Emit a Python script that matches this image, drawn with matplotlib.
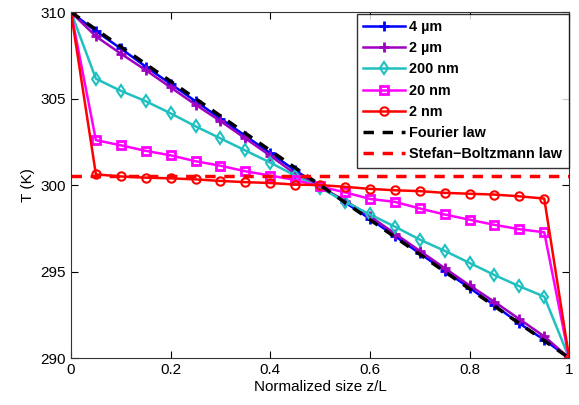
import numpy as np
import matplotlib
matplotlib.use('Agg')
import matplotlib.pyplot as plt

plt.rcParams['font.family'] = ['Liberation Sans', 'DejaVu Sans']

# normalized position z/L
z = [0.0, 0.05, 0.1, 0.15, 0.2, 0.25, 0.3, 0.35, 0.4, 0.45, 0.5,
     0.55, 0.6, 0.65, 0.7, 0.75, 0.8, 0.85, 0.9, 0.95, 1.0]

# temperatures (K)
t_4um = [310, 308.9, 307.9, 306.85, 305.85, 304.85, 303.85, 302.85, 301.85, 300.85, 299.95,
         299.0, 298.05, 297.05, 296.05, 295.05, 294.05, 293.05, 292.0, 291.05, 290]
t_2um = [310, 308.6, 307.6, 306.65, 305.65, 304.65, 303.7, 302.7, 301.7, 300.65, 299.9,
         299.1, 298.2, 297.2, 296.2, 295.2, 294.2, 293.25, 292.25, 291.25, 290]
t_200nm = [310, 306.15, 305.45, 304.85, 304.15, 303.4, 302.7, 302.0, 301.3, 300.55, 299.85,
           299.05, 298.3, 297.6, 296.85, 296.2, 295.5, 294.8, 294.15, 293.55, 290]
t_20nm = [310, 302.6, 302.3, 301.98, 301.72, 301.38, 301.12, 300.8, 300.55, 300.3, 299.92,
          299.58, 299.2, 299.03, 298.65, 298.3, 298.0, 297.7, 297.45, 297.27, 290]
t_2nm = [310, 300.62, 300.5, 300.43, 300.39, 300.33, 300.24, 300.17, 300.12, 300.03, 300.0,
         299.9, 299.78, 299.7, 299.65, 299.55, 299.5, 299.45, 299.35, 299.22, 290]
fourier_z = [0, 1]
fourier_t = [310, 290]
sb_z = [0, 1]
sb_t = [300.55, 300.55]

fig = plt.figure(figsize=(5.79, 4.05), dpi=100)
ax = fig.add_axes([0.1226, 0.116, 0.8604, 0.854])

ax.plot(z, t_4um, color='#0000ff', marker='+', ms=7, mew=2, lw=1.8, label='4 µm')
ax.plot(z, t_2um, color='#a000c0', marker='+', ms=7, mew=2, lw=1.8, label='2 µm')
ax.plot(z, t_200nm, color='#20c0c0', marker='d', ms=6, mew=1.5, mfc='none', lw=1.8, label='200 nm')
ax.plot(z, t_20nm, color='#ff00ff', marker='s', ms=6, mew=2, mfc='none', lw=1.8, label='20 nm')
ax.plot(z, t_2nm, color='#ff0000', marker='o', ms=6, mew=1.5, mfc='none', lw=1.8, label='2 nm')
ax.plot(fourier_z, fourier_t, 'k--', lw=2.5, dashes=(3, 2.5), label='Fourier law')
ax.plot(sb_z, sb_t, '--', color='#ff0000', lw=2.5, dashes=(3, 2.5), label='Stefan\u2212Boltzmann law')

ax.set_xlim(0, 1)
ax.set_ylim(290, 310)
ax.set_xticks([0, 0.2, 0.4, 0.6, 0.8, 1])
ax.set_xticklabels(['0', '0.2', '0.4', '0.6', '0.8', '1'])
ax.set_yticks([290, 295, 300, 305, 310])
ax.tick_params(direction='in', top=True, right=True, labelsize=11, length=5, width=0.8)
for s in ax.spines.values():
    s.set_color('#333333')
ax.set_xlabel('Normalized size z/L', fontsize=11, labelpad=2)
ax.set_ylabel('T (K)', fontsize=11)

leg = ax.legend(loc='upper right', bbox_to_anchor=(0.999, 0.996), borderaxespad=0,
                prop={'weight': 'bold', 'size': 10.4}, fancybox=False, edgecolor='black',
                handlelength=2.9, labelspacing=0.5, borderpad=0.45, handletextpad=0.3)
leg.get_frame().set_linewidth(1)

fig.savefig('out.png', dpi=100)
